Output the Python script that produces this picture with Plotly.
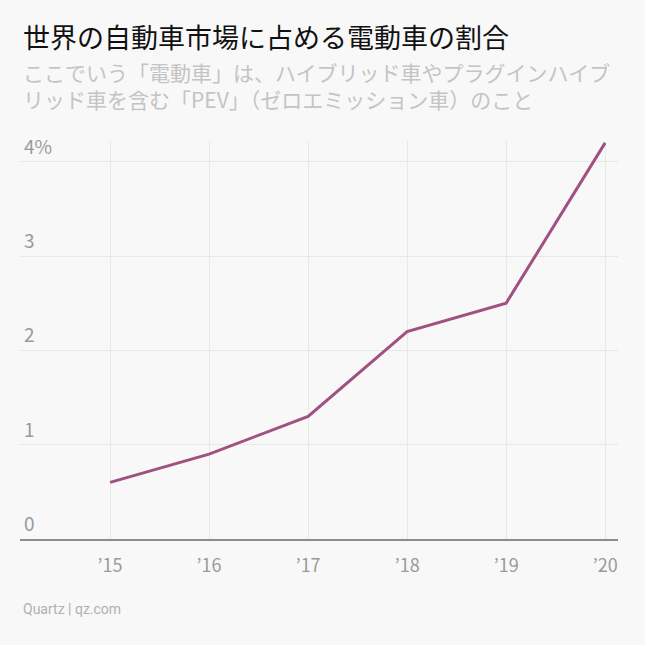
import plotly.graph_objects as go

# data
years = [2015, 2016, 2017, 2018, 2019, 2020]
year_labels = ["’15", "’16", "’17", "’18", "’19", "’20"]
ev_share = [0.6, 0.9, 1.3, 2.2, 2.5, 4.2]
y_ticks = [0, 1, 2, 3, 4]
y_tick_labels = ["0", "1", "2", "3", "4%"]

title = "世界の自動車市場に占める電動車の割合"
subtitle = ("ここでいう「電動車」は、ハイブリッド車やプラグインハイブ<br>"
            "リッド車を含む「PEV」（ゼロエミッション車）のこと")
source = "Quartz | qz.com"

BG = "#f8f8f8"
FONT = "Noto Sans CJK JP"
W, H = 645, 645
L, R, T, B = 20, 27, 141, 106

fig = go.Figure()
fig.add_trace(go.Scatter(
    x=years, y=ev_share, mode="lines",
    line=dict(color="#a05181", width=3),
    hoverinfo="skip",
))

fig.update_layout(
    width=W, height=H,
    paper_bgcolor=BG, plot_bgcolor=BG,
    margin=dict(l=L, r=R, t=T, b=B),
    showlegend=False,
    font=dict(family=FONT, color="#999999"),
    xaxis=dict(
        range=[2014.09, 2020.13],
        tickvals=years, ticktext=year_labels,
        tickfont=dict(size=18, color="#9a9a9a"),
        showgrid=True, gridcolor="#e8e8e8", gridwidth=1,
        showline=True, linecolor="#8c8c8c", linewidth=1.5,
        ticks="", ticklabelstandoff=10,
        zeroline=False, fixedrange=True,
    ),
    yaxis=dict(
        range=[0, 4.22],
        tickvals=y_ticks, showticklabels=False,
        showgrid=True, gridcolor="#e8e8e8", gridwidth=1,
        zeroline=False, showline=False, ticks="",
        fixedrange=True,
    ),
)

# y tick labels sit above their gridlines at the left edge
for v, lab in zip(y_ticks, y_tick_labels):
    fig.add_annotation(text=lab, x=0.003, y=v, xref="paper", yref="y",
                       xanchor="left", yanchor="bottom", yshift=1, showarrow=False,
                       font=dict(family=FONT, size=19, color="#9a9a9a"))

# titles and footer placed via pixel positions converted to paper coords
def px_x(x):
    return (x - L) / (W - L - R)

def px_y(y):
    return (H - B - y) / (H - T - B)

fig.add_annotation(text=title, x=px_x(21), y=px_y(37), xref="paper", yref="paper",
                   xanchor="left", yanchor="middle", showarrow=False,
                   font=dict(family=FONT, size=27, color="#111111"))
fig.add_annotation(text=subtitle, x=px_x(21), y=px_y(85), xref="paper", yref="paper",
                   xanchor="left", yanchor="middle", showarrow=False, align="left",
                   font=dict(family=FONT, size=21, color="#c4c4c4"))
fig.add_annotation(text=source, x=px_x(21), y=px_y(609), xref="paper", yref="paper",
                   xanchor="left", yanchor="middle", showarrow=False,
                   font=dict(family="Roboto", size=14, color="#b0b0b0"))

fig.write_html("out.html", config={"displayModeBar": False},
               post_script="document.body.style.margin='0';"
                           "document.body.style.background='#f8f8f8';")
